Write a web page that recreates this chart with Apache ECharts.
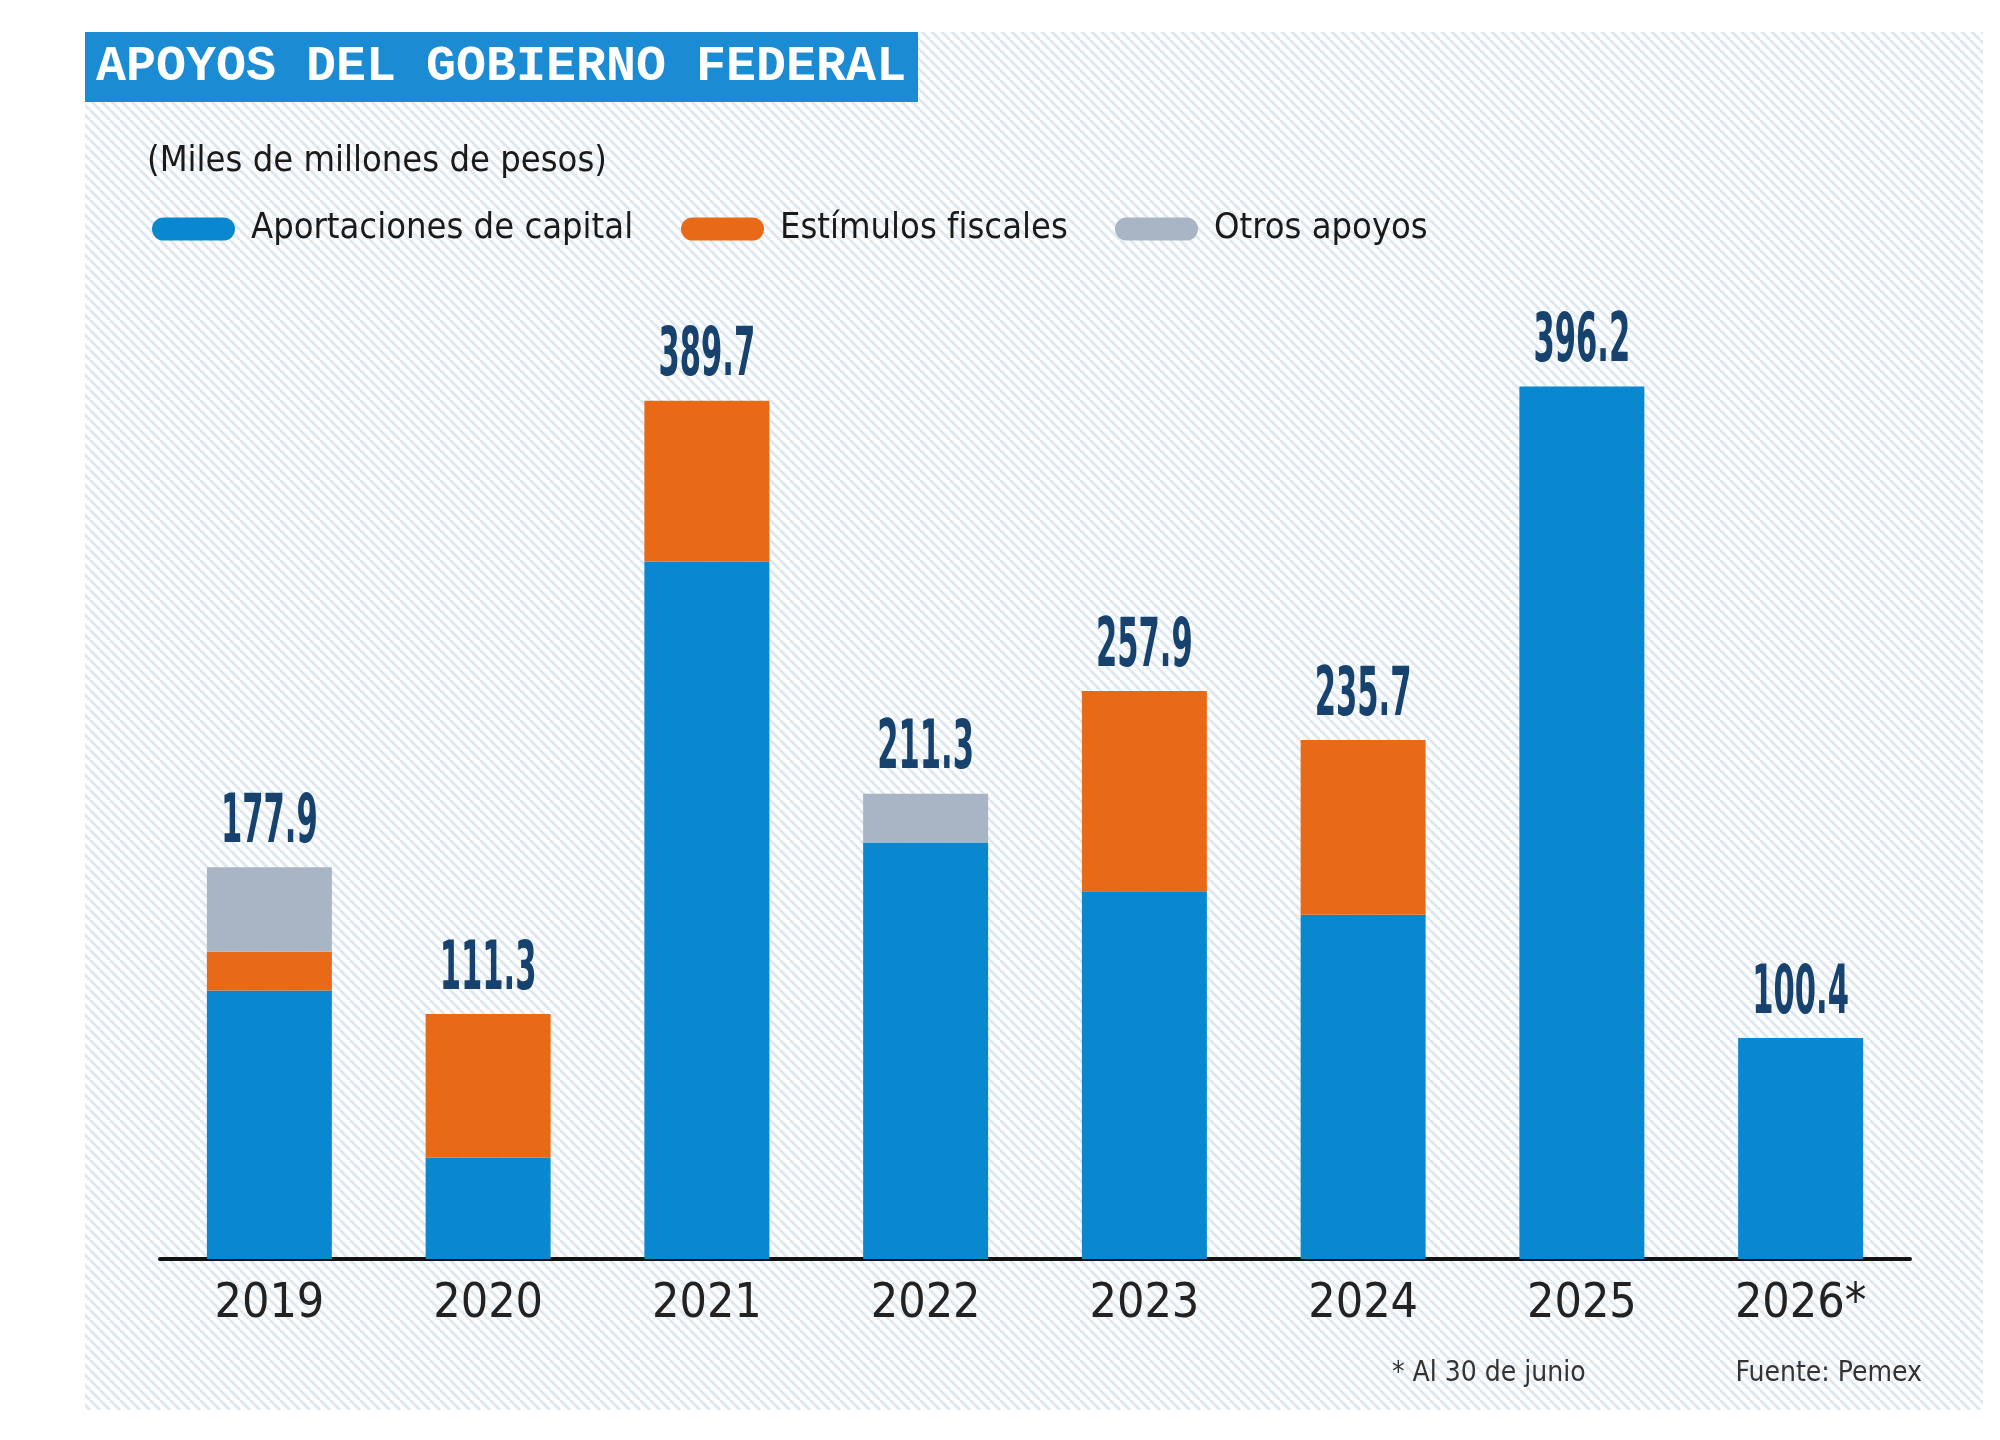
<!DOCTYPE html>
<html lang="es">
<head>
<meta charset="UTF-8">
<title>Apoyos del Gobierno Federal</title>
<style>
  html, body { margin: 0; padding: 0; background: #fff; }
  #chart { width: 2000px; height: 1440px; }
</style>
</head>
<body>
<div id="chart"></div>
<script src="https://cdn.jsdelivr.net/npm/echarts@6/dist/echarts.min.js"></script>
<script>
  // datos (miles de millones de pesos)
  const years = ['2019', '2020', '2021', '2022', '2023', '2024', '2025', '2026*']
  const aportaciones = [121.9, 46.1, 316.6, 189.1, 167.0, 156.3, 396.2, 100.4]
  const estimulos = [17.6, 65.2, 73.1, 0, 90.9, 79.4, 0, 0]
  const otros = [38.4, 0, 0, 22.2, 0, 0, 0, 0]
  const totals = [177.9, 111.3, 389.7, 211.3, 257.9, 235.7, 396.2, 100.4]

  const narrow = "'Liberation Sans Narrow', 'DejaVu Sans Condensed', sans-serif"
  const pill = 'path://M11.5,0 L71.5,0 A11.5,11.5 0 0 1 71.5,23 L11.5,23 A11.5,11.5 0 0 1 11.5,0 Z'

  // fondo rayado
  const tile = document.createElement('canvas')
  tile.width = 10
  tile.height = 10
  const tc = tile.getContext('2d')
  tc.fillStyle = '#ffffff'
  tc.fillRect(0, 0, 10, 10)
  tc.strokeStyle = '#dde7f0'
  tc.lineWidth = 3
  for (let k = -10; k <= 10; k += 10) {
    tc.beginPath()
    tc.moveTo(k, 0)
    tc.lineTo(k + 10, 10)
    tc.stroke()
  }

  let myChart = echarts.init(document.getElementById('chart'))

  function legendAt(left, name) {
    return {
      left: left,
      top: 206,
      data: [name],
      icon: pill,
      itemWidth: 83,
      itemHeight: 23,
      selectedMode: false,
      textStyle: { fontFamily: narrow, fontSize: 36, color: '#1a1a1a', padding: [0, 0, 0, 11] }
    }
  }

  let option = {
    animation: false,
    graphic: [
      { type: 'rect', z: -10, shape: { x: 85, y: 32, width: 1898, height: 1378 },
        style: { fill: { image: tile, repeat: 'repeat' } } },
      { type: 'rect', z: 1, shape: { x: 85, y: 32, width: 833, height: 70 }, style: { fill: '#1b8bd3' } },
      { type: 'text', z: 2, left: 96, top: 42,
        style: { text: 'APOYOS DEL GOBIERNO FEDERAL', fill: '#ffffff',
          font: "bold 50px 'Liberation Mono', 'DejaVu Sans Mono', monospace" } },
      { type: 'text', z: 2, left: 147, top: 144,
        style: { text: '(Miles de millones de pesos)', fill: '#1a1a1a', font: '36px ' + narrow } },
      { type: 'text', z: 2, left: 1392, top: 1360,
        style: { text: '* Al 30 de junio', fill: '#333', font: '28px ' + narrow } },
      { type: 'text', z: 2, right: 78, top: 1360,
        style: { text: 'Fuente: Pemex', fill: '#333', font: '28px ' + narrow } }
    ],
    legend: [
      legendAt(147, 'Aportaciones de capital'),
      legendAt(676, 'Estímulos fiscales'),
      legendAt(1110, 'Otros apoyos')
    ],
    grid: { left: 160, right: 90, top: 268, bottom: 181 },
    xAxis: {
      type: 'category',
      data: years,
      axisLine: { lineStyle: { color: '#111', width: 4 } },
      axisTick: { show: false },
      axisLabel: { fontFamily: narrow, fontSize: 48, color: '#222', margin: 22 }
    },
    yAxis: {
      type: 'value',
      min: 0,
      max: 450,
      show: false,
      splitLine: { show: false }
    },
    series: [
      { name: 'Aportaciones de capital', type: 'bar', stack: 'total', data: aportaciones,
        barWidth: 125, itemStyle: { color: '#0a88cf' } },
      { name: 'Estímulos fiscales', type: 'bar', stack: 'total', data: estimulos,
        itemStyle: { color: '#e86a17' } },
      { name: 'Otros apoyos', type: 'bar', stack: 'total', data: otros,
        itemStyle: { color: '#a7b5c4' } },
      {
        name: 'total', type: 'custom', silent: true, z: 5,
        data: totals.map((v, i) => [i, v]),
        renderItem: function (params, api) {
          let p = api.coord([api.value(0), api.value(1)])
          return {
            type: 'text',
            x: p[0],
            y: p[1] - 9,
            scaleX: 0.5,
            style: {
              text: api.value(1).toFixed(1),
              font: "bold 68px 'DejaVu Sans Condensed', sans-serif",
              fill: '#17426e',
              align: 'center',
              verticalAlign: 'bottom'
            }
          }
        }
      }
    ]
  }
  myChart.setOption(option)
</script>
</body>
</html>
